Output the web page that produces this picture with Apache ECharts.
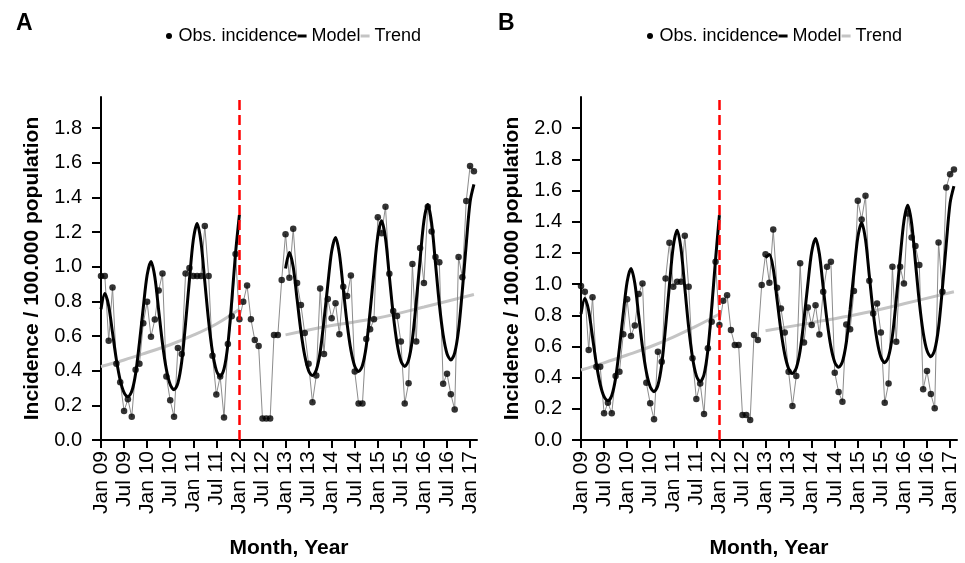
<!DOCTYPE html>
<html><head><meta charset="utf-8">
<script src="https://cdn.jsdelivr.net/npm/echarts@6/dist/echarts.min.js"></script>
<style>html,body{margin:0;padding:0;background:#fff}#c{width:965px;height:563px}</style>
</head><body><div id="c"></div>
<script>
// ---- data (month index 0 = Jan 2009) ----
const tickLabels = ['Jan 09','Jul 09','Jan 10','Jul 10','Jan 11','Jul 11','Jan 12','Jul 12','Jan 13','Jul 13','Jan 14','Jul 14','Jan 15','Jul 15','Jan 16','Jul 16','Jan 17'];
const yTicksA = [0,0.2,0.4,0.6,0.8,1.0,1.2,1.4,1.6,1.8];
const yTicksB = [0,0.2,0.4,0.6,0.8,1.0,1.2,1.4,1.6,1.8,2.0];
const breakMonth = 36;

const obsA = [0.946,0.946,0.573,0.88,0.44,0.334,0.168,0.235,0.134,0.405,0.44,0.674,0.798,0.596,0.695,0.863,0.961,0.367,0.229,0.134,0.531,0.497,0.961,0.993,0.946,0.946,0.946,1.236,0.946,0.487,0.262,0.367,0.13,0.554,0.714,1.073,0.697,
0.798,0.892,0.697,0.577,0.543,0.124,0.124,0.124,0.606,0.606,0.924,1.188,0.936,1.219,0.907,0.779,0.617,0.44,0.218,0.372,0.875,0.497,0.814,0.703,0.79,0.611,0.884,0.831,0.949,0.395,0.21,0.21,0.583,0.64,0.697,1.286,1.194,1.347,0.959,0.745,0.716,0.569,0.21,0.328,1.016,0.569,1.108,0.907,1.347,1.203,1.056,1.026,0.325,0.382,0.264,0.176,1.056,0.94,1.379,1.582,1.551];
const modelA = [0.755,0.845,0.774,0.619,0.464,0.345,0.274,0.25,0.281,0.383,0.562,0.765,0.952,1.03,0.941,0.749,0.556,0.408,0.32,0.29,0.328,0.453,0.674,0.924,1.154,1.25,1.144,0.914,0.685,0.508,0.402,0.367,0.41,0.551,0.799,1.08,1.30,
null,null,null,null,null,null,null,null,null,null,null,
0.99,1.083,0.998,0.813,0.628,0.486,0.40,0.372,0.404,0.507,0.691,0.898,1.089,1.169,1.076,0.875,0.674,0.519,0.426,0.395,0.43,0.543,0.743,0.969,1.178,1.265,1.164,0.945,0.727,0.559,0.458,0.424,0.461,0.583,0.798,1.042,1.266,1.36,1.252,1.019,0.785,0.606,0.498,0.462,0.503,0.634,0.867,1.131,1.374,1.475];
const trendA1Months = [0,6,12,18,24,30,36];
const trendA1 = [0.424,0.462,0.505,0.55,0.605,0.67,0.755];
const trendA2Months = [48,60,72,84,97];
const trendA2 = [0.607,0.661,0.704,0.768,0.84];

const obsB = [0.987,0.951,0.577,0.915,0.47,0.47,0.171,0.239,0.171,0.41,0.438,0.679,0.902,0.667,0.735,0.936,1.004,0.367,0.235,0.133,0.566,0.502,1.036,1.265,0.983,1.015,1.015,1.31,0.983,0.524,0.263,0.363,0.167,0.588,0.758,1.143,0.737,
0.893,0.929,0.705,0.609,0.609,0.16,0.16,0.128,0.673,0.641,0.994,1.192,1.008,1.35,0.976,0.844,0.69,0.438,0.218,0.41,1.133,0.626,0.85,0.737,0.865,0.677,0.951,1.111,1.143,0.432,0.308,0.246,0.741,0.71,0.955,1.534,1.415,1.566,1.021,0.812,0.876,0.69,0.239,0.363,1.111,0.63,1.111,1.004,1.453,1.299,1.244,1.122,0.325,0.442,0.295,0.203,1.267,0.951,1.62,1.705,1.735];
const modelB = [0.808,0.908,0.829,0.659,0.488,0.357,0.278,0.252,0.286,0.396,0.591,0.812,1.015,1.10,1.005,0.80,0.594,0.436,0.342,0.31,0.351,0.486,0.724,0.994,1.242,1.346,1.229,0.977,0.724,0.53,0.413,0.374,0.42,0.576,0.85,1.159,1.442,
null,null,null,null,null,null,null,null,null,null,null,
1.17,1.19,1.098,0.90,0.702,0.549,0.458,0.427,0.462,0.574,0.773,0.999,1.206,1.293,1.194,0.979,0.764,0.598,0.499,0.466,0.503,0.624,0.837,1.078,1.30,1.393,1.285,1.052,0.819,0.64,0.532,0.496,0.536,0.668,0.90,1.163,1.405,1.506,1.389,1.137,0.884,0.69,0.573,0.534,0.578,0.72,0.972,1.256,1.519,1.628];
const trendB1Months = [0,6,12,18,24,30,36];
const trendB1 = [0.449,0.495,0.545,0.598,0.66,0.73,0.808];
const trendB2Months = [48,60,72,84,97];
const trendB2 = [0.701,0.752,0.806,0.874,0.951];

// ---- chart ----
const FONT = '"Liberation Sans", Arial, Helvetica, sans-serif';
const tickMonths = tickLabels.map((_, i) => i * 6);
const pairs = arr => arr.map((v, i) => [i, v]);
const zip = (xs, ys) => xs.map((x, i) => [x, ys[i]]);

function xAxisCfg(gi) {
  return {
    type: 'value', gridIndex: gi, min: 0, max: 97.8,
    name: 'Month, Year', nameLocation: 'middle', nameGap: 98,
    nameTextStyle: {fontFamily: FONT, fontSize: 21, fontWeight: 'bold', color: '#000'},
    axisLine: {onZero: false, lineStyle: {color: '#000', width: 2}},
    axisTick: {customValues: tickMonths, length: 8, lineStyle: {color: '#000', width: 2}},
    axisLabel: {customValues: tickMonths, formatter: v => tickLabels[Math.round(v / 6)],
      rotate: 90, margin: 11, fontFamily: FONT, fontSize: 21, color: '#000'},
    splitLine: {show: false}
  };
}
function yAxisCfg(gi, max, ticks) {
  return {
    type: 'value', gridIndex: gi, min: 0, max: max,
    name: 'Incidence / 100.000 population', nameLocation: 'middle', nameGap: 58,
    nameTextStyle: {fontFamily: FONT, fontSize: 21, fontWeight: 'bold', color: '#000'},
    axisLine: {show: true, lineStyle: {color: '#000', width: 2}},
    axisTick: {show: true, customValues: ticks, length: 9, lineStyle: {color: '#000', width: 2}},
    axisLabel: {customValues: ticks, formatter: v => v.toFixed(1), margin: 19,
      fontFamily: FONT, fontSize: 20, color: '#000'},
    splitLine: {show: false}
  };
}
function panelSeries(gi, obs, model, t1m, t1, t2m, t2) {
  return [
    {name: 'Trend', type: 'line', xAxisIndex: gi, yAxisIndex: gi, data: zip(t1m, t1), smooth: 0.4,
      showSymbol: false, itemStyle: {color: '#c4c4c4'}, lineStyle: {color: '#c4c4c4', width: 3}, z: 1},
    {name: 'Trend', type: 'line', xAxisIndex: gi, yAxisIndex: gi, data: zip(t2m, t2), smooth: 0.4,
      showSymbol: false, itemStyle: {color: '#c4c4c4'}, lineStyle: {color: '#c4c4c4', width: 3}, z: 1},
    {name: 'Obs. incidence', type: 'line', xAxisIndex: gi, yAxisIndex: gi, data: pairs(obs),
      showSymbol: false, itemStyle: {color: '#000'}, lineStyle: {color: '#8c8c8c', width: 1}, z: 2,
      markLine: {silent: true, symbol: 'none', label: {show: false},
        lineStyle: {color: '#ff0000', type: [10, 5], width: 2.5},
        data: [{xAxis: breakMonth}]}},
    {name: 'Model', type: 'line', xAxisIndex: gi, yAxisIndex: gi, data: pairs(model), smooth: 0.3,
      connectNulls: false, showSymbol: false, itemStyle: {color: '#000'}, lineStyle: {color: '#000', width: 3}, z: 3},
    {name: 'Obs. incidence', type: 'scatter', xAxisIndex: gi, yAxisIndex: gi, data: pairs(obs),
      symbolSize: 6.5, itemStyle: {color: '#000'}, z: 4}
  ];
}
const legendData = [
  {name: 'Obs. incidence', icon: 'circle', itemStyle: {color: '#000', borderWidth: 0}},
  {name: 'Model', icon: 'path://M0,0H9V3H0Z', itemStyle: {color: '#000', borderWidth: 0}},
  {name: 'Trend', icon: 'path://M0,0H9V3H0Z', itemStyle: {color: '#c4c4c4', borderWidth: 0}}
];
function legendCfg(left) {
  return {data: legendData, left: left, top: 22, itemWidth: 9, itemHeight: 6, itemGap: 0,
    symbolKeepAspect: true, selectedMode: false,
    textStyle: {fontFamily: FONT, fontSize: 18, color: '#000'}};
}

const chart = echarts.init(document.getElementById('c'), null, {renderer: 'canvas'});
chart.setOption({
  animation: false,
  backgroundColor: '#fff',
  title: [
    {text: 'A', left: 11, top: 7, textStyle: {fontFamily: FONT, fontSize: 23, fontWeight: 'bold', color: '#000'}},
    {text: 'B', left: 493, top: 7, textStyle: {fontFamily: FONT, fontSize: 23, fontWeight: 'bold', color: '#000'}}
  ],
  legend: [legendCfg(161), legendCfg(642)],
  grid: [
    {left: 101, top: 97, width: 376, height: 343, outerBoundsMode: 'none'},
    {left: 581, top: 97, width: 376, height: 343, outerBoundsMode: 'none'}
  ],
  xAxis: [xAxisCfg(0), xAxisCfg(1)],
  yAxis: [yAxisCfg(0, 1.98, yTicksA), yAxisCfg(1, 2.2, yTicksB)],
  series: [].concat(
    panelSeries(0, obsA, modelA, trendA1Months, trendA1, trendA2Months, trendA2),
    panelSeries(1, obsB, modelB, trendB1Months, trendB1, trendB2Months, trendB2)
  )
});
</script></body></html>
